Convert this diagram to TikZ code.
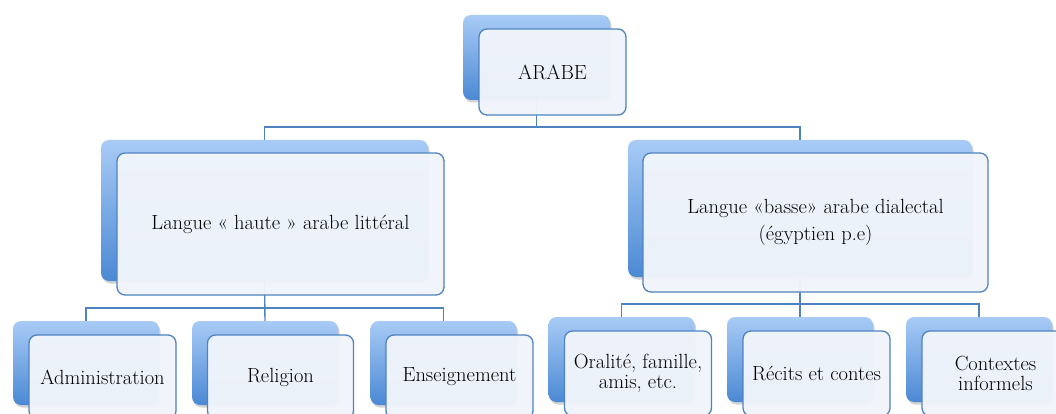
\documentclass[tikz,border=0pt]{standalone}
\usetikzlibrary{shadows}
\definecolor{bkTop}{HTML}{A8CBF6}
\definecolor{bkBot}{HTML}{4B89D4}
\definecolor{lineBlue}{HTML}{4F83C0}
\definecolor{frontFill}{HTML}{F1F5FB}
\tikzset{
  backbox/.style={rounded corners=8pt, draw=none, inner sep=0pt, outer sep=0pt,
    top color=bkTop, bottom color=bkBot,
    drop shadow={opacity=0.35, shadow xshift=1.5pt, shadow yshift=-2.5pt}},
  frontbox/.style={rounded corners=8pt, draw=lineBlue, line width=1.3pt,
    fill=frontFill, fill opacity=0.965, text opacity=1, text=black,
    inner sep=2pt, outer sep=0pt, align=center,
    font=\fontsize{20.5}{20.5}\selectfont},
  conn/.style={draw=lineBlue, line width=1.4pt},
}
\begin{document}
\begin{tikzpicture}[x=1pt,y=-1pt]
\useasboundingbox (0,0) rectangle (1056,414);
% back boxes
\node[backbox, minimum width=147pt, minimum height=85pt] (tB) at (536.5,57.5) {};
\node[backbox, minimum width=327pt, minimum height=141pt] (lB) at (264.5,210.5) {};
\node[backbox, minimum width=344pt, minimum height=137pt] (rB) at (800,208.5) {};
\node[backbox, minimum width=146pt, minimum height=84pt] (b1B) at (86,363) {};
\node[backbox, minimum width=146pt, minimum height=84pt] (b2B) at (265,363) {};
\node[backbox, minimum width=146pt, minimum height=84pt] (b3B) at (443.5,363) {};
\node[backbox, minimum width=146pt, minimum height=85pt] (b4B) at (621.5,359.5) {};
\node[backbox, minimum width=146pt, minimum height=85pt] (b5B) at (800,359.5) {};
\node[backbox, minimum width=146pt, minimum height=85pt] (b6B) at (979,359.5) {};
% connectors
\draw[conn] (tB.south) -- ++(0,27) -| (lB.north);
\draw[conn] (tB.south) -- ++(0,27) -| (rB.north);
\draw[conn] (lB.south) -- ++(0,27) -| (b1B.north);
\draw[conn] (lB.south) -- (b2B.north);
\draw[conn] (lB.south) -- ++(0,27) -| (b3B.north);
\draw[conn] (rB.south) -- ++(0,27) -| (b4B.north);
\draw[conn] (rB.south) -- (b5B.north);
\draw[conn] (rB.south) -- ++(0,27) -| (b6B.north);
% front boxes
\node[frontbox, minimum width=147pt, minimum height=86pt] (tF) at (552.5,72) {ARABE};
\node[frontbox, minimum width=327pt, minimum height=142pt] (lF) at (280.5,224) {Langue « haute » arabe littéral};
\node[frontbox, minimum width=345pt, minimum height=139pt, font=\fontsize{20.5}{27}\selectfont] (rF) at (815.5,222.5) {Langue «basse» arabe dialectal\\(égyptien p.e)};
\node[frontbox, minimum width=147pt, minimum height=84pt] (b1F) at (102.5,377) {Administration};
\node[frontbox, minimum width=146pt, minimum height=84pt] (b2F) at (280.5,377) {Religion};
\node[frontbox, minimum width=147pt, minimum height=84pt] (b3F) at (459.5,377) {Enseignement};
\node[frontbox, minimum width=147pt, minimum height=85pt] (b4F) at (638,373.5) {Oralité, famille,\\amis, etc.};
\node[frontbox, minimum width=147pt, minimum height=85pt] (b5F) at (816.5,373.5) {Récits et contes};
\node[frontbox, minimum width=147pt, minimum height=85pt] (b6F) at (995.5,373.5) {Contextes\\informels};
\end{tikzpicture}
\end{document}
